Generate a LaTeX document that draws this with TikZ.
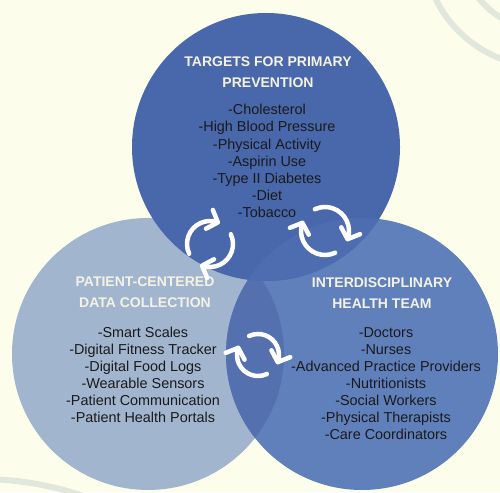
\documentclass[tikz,border=0pt]{standalone}
\usepackage{fontspec}
\setmainfont{Liberation Sans}
\definecolor{bgcream}{HTML}{FDFDEB}
\definecolor{deco}{HTML}{E2E7DC}
\definecolor{topblue}{HTML}{4967AB}
\definecolor{leftblue}{HTML}{A2B5CE}
\definecolor{rightblue}{HTML}{6080BB}
\definecolor{lensblue}{HTML}{5570AF}
\definecolor{toprightblue}{HTML}{4E6DB1}
\definecolor{headcol}{HTML}{F4F2E4}
\definecolor{bodycol}{HTML}{1A1A1A}
\tikzset{
  headtext/.style={text=headcol, font=\fontsize{14}{21}\selectfont\bfseries, align=center, inner sep=0pt},
  bodytext/.style={text=bodycol, font=\fontsize{14.4}{17.1}\selectfont, align=center, inner sep=0pt},
  cyclearc/.style={draw=white, line width=4.5pt, line cap=round},
  chev/.pic={\draw[white, line width=4.5pt, line cap=round, line join=round] (-9,10) -- (0,0) -- (-9,-10);},
  decoarc/.style={draw=deco, line width=6pt}
}
\begin{document}
\begin{tikzpicture}[x=1pt,y=1pt]
\useasboundingbox (0,0) rectangle (500,492);
\fill[bgcream] (0,0) rectangle (500,492);
% decorative arcs
\begin{scope}
\clip (0,0) rectangle (500,492);
\draw[decoarc] (545,547) circle[radius=122];
\draw[decoarc] (545,547) circle[radius=85];
\draw[decoarc] (-20,-308) circle[radius=321];
\end{scope}
% circles
\coordinate (ctop) at (266,345);
\coordinate (cleft) at (148,138);
\coordinate (cright) at (362,138);
\fill[leftblue] (cleft) circle[radius=136];
\fill[rightblue] (cright) circle[radius=136];
\begin{scope}
\clip (cleft) circle[radius=136];
\fill[lensblue] (cright) circle[radius=136];
\end{scope}
\fill[topblue] (ctop) circle[radius=134];
\begin{scope}
\clip (ctop) circle[radius=134];
\fill[toprightblue] (cright) circle[radius=136];
\end{scope}
% texts
\node[headtext] (th) at (268,419.5) {TARGETS FOR PRIMARY\\PREVENTION};
\node[bodytext] (tb) at (267,331) {-Cholesterol\\-High Blood Pressure\\-Physical Activity\\-Aspirin Use\\-Type II Diabetes\\-Diet\\-Tobacco};
\node[headtext] (lh) at (145,199.5) {PATIENT-CENTERED\\DATA COLLECTION};
\node[bodytext] (lb) at (143,117) {-Smart Scales\\-Digital Fitness Tracker\\-Digital Food Logs\\-Wearable Sensors\\-Patient Communication\\-Patient Health Portals};
\node[headtext] (rh) at (382,198.5) {INTERDISCIPLINARY\\HEALTH TEAM};
\node[bodytext] (rb) at (386,108.5) {-Doctors\\-Nurses\\-Advanced Practice Providers\\-Nutritionists\\-Social Workers\\-Physical Therapists\\-Care Coordinators};
% cycle arrows
\coordinate (cyA) at (210,248);
\coordinate (cyB) at (325,261);
\coordinate (cyC) at (258,137);
\draw[cyclearc] (cyA) ++(205:23) arc[start angle=205, end angle=72, radius=23];
\path (cyA) ++(70:23) pic[rotate=-20] {chev};
\draw[cyclearc] (cyA) ++(25:23) arc[start angle=25, end angle=-108, radius=23];
\path (cyA) ++(-110:23) pic[rotate=-200] {chev};
\draw[cyclearc] (cyB) ++(115:24) arc[start angle=115, end angle=-18, radius=24];
\path (cyB) ++(-20:24) pic[rotate=-110] {chev};
\draw[cyclearc] (cyB) ++(-65:24) arc[start angle=-65, end angle=-198, radius=24];
\path (cyB) ++(-200:24) pic[rotate=-290] {chev};
\draw[cyclearc] (cyC) ++(115:21) arc[start angle=115, end angle=-18, radius=21];
\path (cyC) ++(-20:21) pic[rotate=-110] {chev};
\draw[cyclearc] (cyC) ++(-65:21) arc[start angle=-65, end angle=-198, radius=21];
\path (cyC) ++(-200:21) pic[rotate=-290] {chev};
\end{tikzpicture}
\end{document}
